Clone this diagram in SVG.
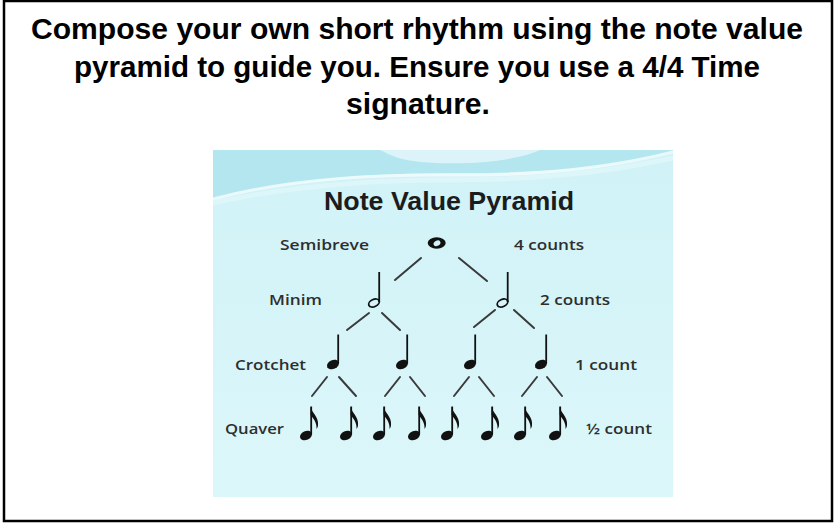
<svg xmlns="http://www.w3.org/2000/svg" xmlns:xlink="http://www.w3.org/1999/xlink" width="834" height="525" viewBox="0 0 834 525">
  <style>
    .title { font-family: "Liberation Sans", Arial, sans-serif; font-weight: bold; font-size: 29px; fill: #000; }
    .ptitle { font-family: "Liberation Sans", Arial, sans-serif; font-weight: bold; font-size: 26px; fill: #1c1c1c; }
    .lbl { font-family: "Open Sans", "Liberation Sans", sans-serif; font-weight: 600; font-size: 15px; fill: #2e2e2e; }
    .conn line { stroke: #3a3a3a; stroke-width: 2; stroke-linecap: round; }
    .ink { fill: #111; }
    .stem { stroke: #111; stroke-width: 1.8; }
  </style>
  <defs>
    <linearGradient id="bg" x1="0" y1="0" x2="0" y2="1">
      <stop offset="0" stop-color="#d0f2f7"/>
      <stop offset="1" stop-color="#dcf7fa"/>
    </linearGradient>
    <g id="crotchet">
      <ellipse cx="0" cy="0" rx="6.3" ry="4.4" transform="rotate(-25)" class="ink"/>
      <line x1="5.2" y1="-30" x2="5.2" y2="-1" class="stem"/>
    </g>
    <g id="minim">
      <ellipse cx="0" cy="0" rx="5.6" ry="3.6" transform="rotate(-25)" fill="none" stroke="#111" stroke-width="1.8"/>
      <line x1="5.2" y1="-31" x2="5.2" y2="-1" class="stem"/>
    </g>
    <g id="quaver">
      <ellipse cx="0" cy="0" rx="6.3" ry="4.4" transform="rotate(-25)" class="ink"/>
      <line x1="5.2" y1="-29" x2="5.2" y2="-1" class="stem"/>
      <path d="M4.6,-29 C6,-22 13,-19 12,-10 C11.8,-8.5 11.2,-7.5 10.5,-6.5 C11,-11.5 8.5,-16 4.6,-20.5 Z" class="ink"/>
    </g>
  </defs>

  <rect x="4" y="1" width="828" height="520" fill="#ffffff" stroke="#000" stroke-width="2.5"/>

  <g id="heading">
    <text class="title" x="417" y="39" text-anchor="middle" textLength="772" lengthAdjust="spacingAndGlyphs">Compose your own short rhythm using the note value</text>
    <text class="title" x="417" y="77" text-anchor="middle" textLength="686" lengthAdjust="spacingAndGlyphs">pyramid to guide you. Ensure you use a 4/4 Time</text>
    <text class="title" x="418" y="114" text-anchor="middle" textLength="144" lengthAdjust="spacingAndGlyphs">signature.</text>
  </g>

  <g id="picture">
    <rect x="213" y="150" width="460" height="347" fill="url(#bg)"/>
    <path d="M213,150 H673 V153 C620,168 540,173 450,173 C360,173 280,181 213,200 Z" fill="#b3e6ee"/>
    <path d="M380,150 H540 C520,160 470,166 420,162 C400,160 390,155 380,150 Z" fill="#e6f8fb" opacity="0.8"/>
    <path d="M213,199 C280,181 360,174 450,175 C540,176 610,168 673,152" fill="none" stroke="#f2fcfd" stroke-width="3" opacity="0.85"/>
    <path d="M213,203 C290,186 370,180 450,180 C540,180 610,172 673,158" fill="none" stroke="#e4f8fa" stroke-width="5" opacity="0.6"/>
    <text class="ptitle" x="449" y="210" text-anchor="middle" textLength="250" lengthAdjust="spacingAndGlyphs">Note Value Pyramid</text>
  </g>

  <g id="labels">
    <text class="lbl" x="280" y="249.5" textLength="89" lengthAdjust="spacingAndGlyphs">Semibreve</text>
    <text class="lbl" x="514" y="249.5" textLength="70" lengthAdjust="spacingAndGlyphs">4 counts</text>
    <text class="lbl" x="269" y="305" textLength="53" lengthAdjust="spacingAndGlyphs">Minim</text>
    <text class="lbl" x="540" y="305" textLength="70" lengthAdjust="spacingAndGlyphs">2 counts</text>
    <text class="lbl" x="235" y="370" textLength="71" lengthAdjust="spacingAndGlyphs">Crotchet</text>
    <text class="lbl" x="575" y="370" textLength="62" lengthAdjust="spacingAndGlyphs">1 count</text>
    <text class="lbl" x="225" y="434" textLength="59" lengthAdjust="spacingAndGlyphs">Quaver</text>
    <text class="lbl" x="586" y="434" textLength="66" lengthAdjust="spacingAndGlyphs">½ count</text>
  </g>

  <g id="connectors" class="conn">
    <line x1="395" y1="280" x2="421" y2="258"/>
    <line x1="459" y1="258" x2="487" y2="281"/>
    <line x1="347" y1="330" x2="369" y2="313"/>
    <line x1="382" y1="313" x2="400" y2="330"/>
    <line x1="474" y1="327" x2="495" y2="310"/>
    <line x1="514" y1="310" x2="534" y2="328"/>
    <line x1="312" y1="396" x2="327" y2="377"/>
    <line x1="339" y1="377" x2="356" y2="396"/>
    <line x1="385" y1="396" x2="400" y2="377"/>
    <line x1="410" y1="377" x2="425" y2="396"/>
    <line x1="454" y1="396" x2="469" y2="377"/>
    <line x1="479" y1="377" x2="494" y2="396"/>
    <line x1="522" y1="396" x2="537" y2="377"/>
    <line x1="547" y1="377" x2="562" y2="396"/>
  </g>

  <g id="n-semibreve">
    <ellipse cx="436.7" cy="243" rx="9" ry="5.8" class="ink"/>
    <ellipse cx="437" cy="243.3" rx="3.6" ry="2.6" transform="rotate(-30 437 243.3)" fill="#d4f3f7"/>
  </g>
  <g id="n-minim-1"><use xlink:href="#minim" x="374" y="303"/></g>
  <g id="n-minim-2"><use xlink:href="#minim" x="502.5" y="303"/></g>
  <g id="n-crotchet-1"><use xlink:href="#crotchet" x="333" y="364.5"/></g>
  <g id="n-crotchet-2"><use xlink:href="#crotchet" x="402" y="364.5"/></g>
  <g id="n-crotchet-3"><use xlink:href="#crotchet" x="470" y="364.5"/></g>
  <g id="n-crotchet-4"><use xlink:href="#crotchet" x="541" y="364.5"/></g>
  <g id="n-quaver-1"><use xlink:href="#quaver" x="306" y="435.5"/></g>
  <g id="n-quaver-2"><use xlink:href="#quaver" x="346" y="435.5"/></g>
  <g id="n-quaver-3"><use xlink:href="#quaver" x="379" y="435.5"/></g>
  <g id="n-quaver-4"><use xlink:href="#quaver" x="414" y="435.5"/></g>
  <g id="n-quaver-5"><use xlink:href="#quaver" x="447" y="435.5"/></g>
  <g id="n-quaver-6"><use xlink:href="#quaver" x="487" y="435.5"/></g>
  <g id="n-quaver-7"><use xlink:href="#quaver" x="520" y="435.5"/></g>
  <g id="n-quaver-8"><use xlink:href="#quaver" x="555" y="435.5"/></g>
</svg>
